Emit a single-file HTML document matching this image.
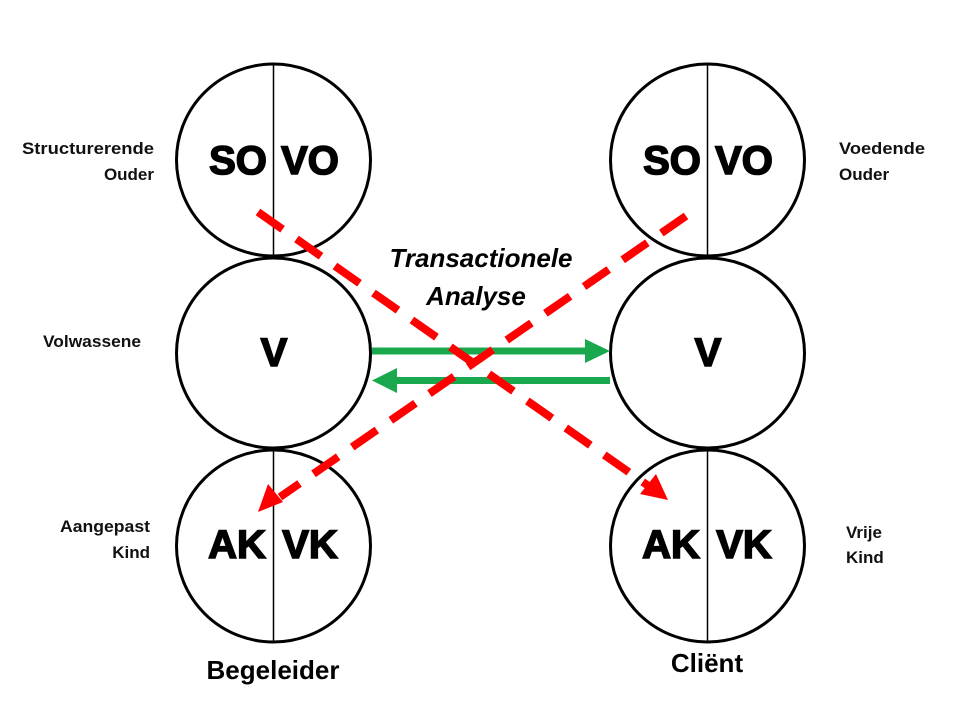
<!DOCTYPE html>
<html><head><meta charset="utf-8"><style>
html,body{margin:0;padding:0;background:#fff}
svg{display:block}
text{font-family:"Liberation Sans",Arial,sans-serif}
</style></head><body>
<svg width="974" height="704" viewBox="0 0 974 704" xmlns="http://www.w3.org/2000/svg">
<g fill="none" stroke="#000" stroke-width="3">
<ellipse cx="273.5" cy="160" rx="97" ry="96"/>
<ellipse cx="273.5" cy="353" rx="97" ry="95"/>
<ellipse cx="273.5" cy="546" rx="97" ry="96"/>
<ellipse cx="707.5" cy="160" rx="97" ry="96"/>
<ellipse cx="707.5" cy="353" rx="97" ry="95"/>
<ellipse cx="707.5" cy="546" rx="97" ry="96"/>
</g>
<g stroke="#000" stroke-width="1.5">
<line x1="273.5" y1="64" x2="273.5" y2="257"/>
<line x1="273.5" y1="450" x2="273.5" y2="642"/>
<line x1="707.5" y1="64" x2="707.5" y2="257"/>
<line x1="707.5" y1="450" x2="707.5" y2="642"/>
</g>
<g font-weight="bold" font-size="40" fill="#000" stroke="#000" stroke-width="1.6" text-anchor="middle">
<text x="238" y="174">SO</text><text x="310" y="174">VO</text>
<text x="672" y="174">SO</text><text x="744" y="174">VO</text>
<text x="274" y="366">V</text><text x="708" y="366">V</text>
<text x="237" y="558">AK</text><text x="310" y="558">VK</text>
<text x="671" y="558">AK</text><text x="744" y="558">VK</text>
</g>
<g fill="#1aa84f" stroke="none">
<rect x="372" y="347.5" width="215" height="7"/>
<polygon points="585,339 610,351 585,363"/>
<rect x="396" y="377" width="214" height="7"/>
<polygon points="397,368 372,380.5 397,393"/>
</g>
<g stroke="#ff0000" stroke-width="8" stroke-dasharray="30 17" fill="none">
<line x1="258" y1="212" x2="650" y2="487"/>
<line x1="686" y1="216" x2="280" y2="497"/>
</g>
<g fill="#ff0000">
<polygon points="668,500 640,494 656,474"/>
<polygon points="258,512 268,484 283,502"/>
</g>
<g font-weight="bold" font-size="17" fill="#111">
<text x="154" y="154" text-anchor="end" textLength="132" lengthAdjust="spacingAndGlyphs">Structurerende</text>
<text x="154" y="180" text-anchor="end">Ouder</text>
<text x="43" y="347" textLength="98" lengthAdjust="spacingAndGlyphs">Volwassene</text>
<text x="150" y="532" text-anchor="end" textLength="90" lengthAdjust="spacingAndGlyphs">Aangepast</text>
<text x="150" y="558" text-anchor="end">Kind</text>
<text x="839" y="154" textLength="86" lengthAdjust="spacingAndGlyphs">Voedende</text>
<text x="839" y="180">Ouder</text>
<text x="846" y="538">Vrije</text>
<text x="846" y="563">Kind</text>
</g>
<g font-weight="bold" font-style="italic" font-size="26" fill="#000" text-anchor="middle">
<text x="481" y="267">Transactionele</text>
<text x="476" y="305">Analyse</text>
</g>
<g font-weight="bold" font-size="26" fill="#000" text-anchor="middle">
<text x="273" y="679">Begeleider</text>
<text x="707" y="672">Cliënt</text>
</g>
</svg>
</body></html>
